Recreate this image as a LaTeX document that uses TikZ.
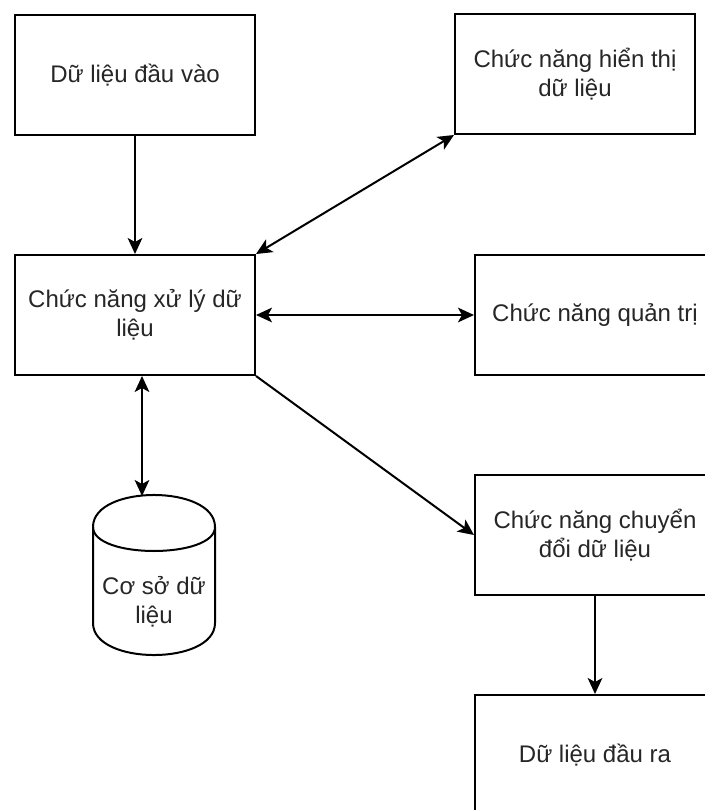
\documentclass[tikz,border=0pt]{standalone}
\usepackage{fontspec}
\setmainfont{Liberation Sans}
\usetikzlibrary{arrows.meta}

\begin{document}
\begin{tikzpicture}[x=0.75pt, y=-0.75pt,
  box/.style={draw=black, line width=1.5pt, fill=white, minimum width=180pt,
    minimum height=90pt, inner sep=0pt, align=center, text=black!85,
    font=\fontsize{18}{21.6}\selectfont},
  label/.style={inner sep=0pt, align=center, text=black!85,
    font=\fontsize{18}{21.6}\selectfont},
  tip/.tip={Stealth[length=12pt, width=11pt, inset=3pt]},
  link/.style={line width=1.5pt, draw=black, -tip},
  dlink/.style={line width=1.5pt, draw=black, tip-tip}]

  \useasboundingbox (0,0) rectangle (705,810);
  \clip (0,0) rectangle (705,810);
  \fill[white] (0,0) rectangle (705,810);

  % boxes
  \node[box] (in)    at (135,75)  {Dữ liệu đầu vào};
  \node[box] (disp)  at (575,74)  {Chức năng hiển thị\\dữ liệu};
  \node[box] (proc)  at (135,315) {Chức năng xử lý dữ\\liệu};
  \node[box] (admin) at (595,315) {Chức năng quản trị};
  \node[box] (conv)  at (595,535) {Chức năng chuyển\\đổi dữ liệu};
  \node[box] (out)   at (595,755) {Dữ liệu đầu ra};

  % database cylinder
  \draw[line width=1.5pt, fill=white]
    (93,527) .. controls (93,484.3) and (215,484.3) .. (215,527)
    -- (215,623) .. controls (215,665.7) and (93,665.7) .. (93,623) -- cycle;
  \draw[line width=1.5pt]
    (93,527) .. controls (93,559) and (215,559) .. (215,527);
  \node[label] (db) at (154,602) {Cơ sở dữ\\liệu};
  \coordinate (dbtop) at (142,496);

  % connectors
  \draw[link]  (in.south) -- (proc.north);
  \draw[dlink] (proc.north east) -- (disp.south west);
  \draw[dlink] (proc.east) -- (admin.west);
  \draw[link]  (proc.south east) -- (conv.west);
  \draw[dlink] (proc.south -| dbtop) -- (dbtop);
  \draw[link]  (conv.south) -- (out.north);
\end{tikzpicture}
\end{document}
